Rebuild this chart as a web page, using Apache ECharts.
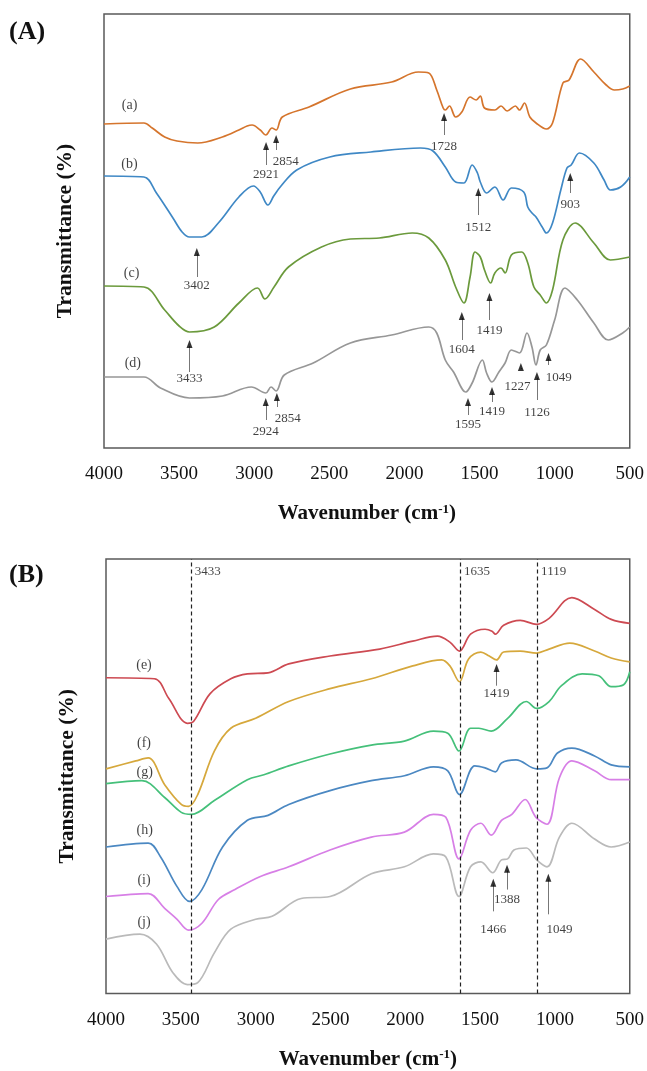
<!DOCTYPE html>
<html>
<head>
<meta charset="utf-8">
<title>FTIR spectra</title>
<script src="https://cdn.jsdelivr.net/npm/echarts@6/dist/echarts.min.js"></script>
<style>
  html, body { margin: 0; padding: 0; background: #fff; }
  #chart { width: 647px; height: 1071px; }
</style>
</head>
<body>
<div id="chart"></div>
<script>
// x ticks (wavenumber, cm-1)
const xTicks = [4000, 3500, 3000, 2500, 2000, 1500, 1000, 500]

// ---- panel (A): [wavenumber, transmittance (a.u., offset)] ----
const specA = [[4000,324],[3734,325],[3679,320],[3596,311],[3514,307],[3376,305],[3212,311],[3102,318],[3047,322],[3014,323],[2960,318],[2923,313],[2882,320],[2854,318],[2813,331],[2635,341],[2360,359],[2085,366],[1907,376],[1838,375],[1785,358],[1742,340],[1728,338],[1700,342],[1659,331],[1618,336],[1563,351],[1522,348],[1495,352],[1467,340],[1398,338],[1357,342],[1316,337],[1261,342],[1234,338],[1201,345],[1165,331],[1124,325],[1055,319],[1014,325],[945,365],[904,368],[827,389],[739,376],[657,363],[602,358],[547,359],[500,362]]
const specB = [[4000,272],[3734,271],[3651,255],[3541,230],[3480,216],[3431,211],[3349,211],[3239,225],[3102,251],[3005,262],[2960,256],[2909,243],[2870,252],[2827,261],[2717,278],[2497,291],[2223,296],[1893,300],[1810,297],[1728,281],[1659,266],[1604,265],[1549,283],[1514,275],[1495,266],[1453,255],[1398,261],[1343,248],[1288,260],[1206,256],[1179,241],[1151,235],[1124,231],[1083,221],[1055,215],[1014,225],[959,258],[918,280],[890,283],[835,295],[739,285],[671,268],[629,258],[561,261],[500,271]]
const specC = [[4000,162],[3734,161],[3596,138],[3500,122],[3431,116],[3266,121],[3102,145],[2978,160],[2929,149],[2868,161],[2772,181],[2552,201],[2360,209],[2167,210],[1948,215],[1838,210],[1728,188],[1659,161],[1604,145],[1563,171],[1530,196],[1495,191],[1467,178],[1426,165],[1398,175],[1357,180],[1330,175],[1288,193],[1220,196],[1179,185],[1138,161],[1096,153],[1055,145],[1014,158],[945,208],[863,225],[739,205],[629,188],[500,191]]
const specD = [[4000,71],[3734,71],[3624,60],[3431,50],[3212,52],[3019,61],[2923,55],[2888,61],[2854,57],[2800,73],[2607,85],[2360,105],[2085,113],[1838,121],[1785,115],[1728,88],[1673,76],[1591,56],[1549,65],[1481,88],[1453,75],[1417,66],[1371,76],[1330,85],[1288,98],[1234,95],[1184,115],[1151,101],[1124,83],[1096,98],[1055,103],[1000,128],[931,160],[849,148],[739,125],[643,108],[547,115],[500,121]]

// ---- panel (B) ----
const specE = [[4000,319],[3677,318],[3580,298],[3456,273],[3414,275],[3304,303],[3166,318],[3055,323],[2917,324],[2779,333],[2503,341],[2171,348],[1950,356],[1785,361],[1702,355],[1638,346],[1564,363],[1467,368],[1420,366],[1398,363],[1343,372],[1232,377],[1122,373],[1039,379],[887,400],[735,388],[624,378],[500,374]]
const specF = [[4000,227],[3801,235],[3718,238],[3608,211],[3497,191],[3448,189],[3387,201],[3276,245],[3166,268],[3000,278],[2779,295],[2503,308],[2227,318],[1950,331],[1757,337],[1702,331],[1638,315],[1577,338],[1495,345],[1439,341],[1390,337],[1343,345],[1232,346],[1122,344],[1039,348],[901,354],[735,346],[624,339],[500,335]]
const specG = [[4000,212],[3760,215],[3608,198],[3497,183],[3428,181],[3276,195],[3055,216],[2945,221],[2779,230],[2503,242],[2227,251],[2006,255],[1812,265],[1716,263],[1641,245],[1564,268],[1508,268],[1426,265],[1316,278],[1191,295],[1122,288],[1039,295],[956,311],[818,323],[707,321],[624,310],[541,312],[500,325]]
const specH = [[4000,148],[3718,152],[3635,138],[3525,108],[3442,93],[3359,105],[3221,148],[3055,175],[2917,180],[2779,191],[2503,205],[2227,215],[2006,220],[1812,229],[1716,225],[1638,201],[1536,230],[1467,228],[1398,224],[1357,233],[1260,236],[1122,227],[1053,228],[983,243],[887,248],[735,240],[624,231],[500,229]]
const specI = [[4000,98],[3718,101],[3608,86],[3525,75],[3448,64],[3359,71],[3249,95],[3138,105],[2972,118],[2779,128],[2503,145],[2227,158],[2006,163],[1812,181],[1729,178],[1641,136],[1564,165],[1495,172],[1426,160],[1357,175],[1288,181],[1199,196],[1127,178],[1053,171],[970,218],[887,235],[735,225],[624,216],[500,216]]
const specJ = [[4000,55],[3773,60],[3663,50],[3553,21],[3456,9],[3387,11],[3276,41],[3166,65],[3000,75],[2890,78],[2696,96],[2503,98],[2227,121],[2006,128],[1812,141],[1729,138],[1641,98],[1564,128],[1495,133],[1416,122],[1357,135],[1316,136],[1274,145],[1191,147],[1122,135],[1053,128],[970,158],[887,172],[735,156],[624,148],[500,153]]

// curve tags: [wavenumber, value, text]
const tagsA = [[3830,343,'(a)'],[3830,284,'(b)'],[3816,175,'(c)'],[3808,85,'(d)']]
const tagsB = [[3746,332,'(e)'],[3746,253,'(f)'],[3741,223,'(g)'],[3741,165,'(h)'],[3746,114,'(i)'],[3746,72,'(j)']]

// peak notes: [arrow wavenumber, tip, tail, label wavenumber, label value, text]
const peaksA = [
  [2921,306,283,2921,273,'2921'],[2854,313,298,2790,286,'2854'],[1736,335,313,1736,301,'1728'],
  [1508,260,233,1508,220,'1512'],[896,275,255,896,243,'903'],[3382,200,171,3382,162,'3402'],
  [1618,136,108,1618,98,'1604'],[1434,155,128,1434,117,'1419'],[3431,108,76,3431,69,'3433'],
  [2923,50,28,2923,16,'2924'],[2849,55,41,2777,29,'2854'],[1577,50,33,1577,23,'1595'],
  [1417,61,46,1417,36,'1419'],[1225,85,80,1247,61,'1227'],[1118,76,48,1118,35,'1126'],
  [1041,95,83,972,70,'1049']
]
const peaksB = [
  [1390,333,311,1390,303,'1419'],[1412,116,83,1412,65,'1466'],
  [1320,130,105,1320,95,'1388'],[1044,121,80,970,65,'1049']
]

// dashed reference lines in (B)
const refLines = [3433, 1635, 1119]

const serif = "'Liberation Serif', 'Times New Roman', serif"

const colorsA = ['#d5752d', '#3f88c5', '#6b9a3c', '#979797']
const colorsB = ['#cd4a52', '#d6a83c', '#45c07a', '#4b88c2', '#d77fe6', '#bababa']

function lineSeries(data, color, idx) {
  return {
    type: 'line',
    xAxisIndex: idx,
    yAxisIndex: idx,
    data: data,
    showSymbol: false,
    smooth: 0.35,
    lineStyle: { color: color, width: 1.7 },
    silent: true,
    z: 3
  }
}

function textSeries(data, idx, size, pos) {
  return {
    type: 'scatter',
    xAxisIndex: idx,
    yAxisIndex: idx,
    data: data,
    symbolSize: 0,
    silent: true,
    label: {
      show: true,
      position: pos || 'inside',
      distance: 2,
      formatter: p => p.value[2],
      fontFamily: serif,
      fontSize: size,
      color: '#111'
    },
    z: 5
  }
}

function arrowSeries(notes, idx) {
  return [
    {
      type: 'scatter',
      xAxisIndex: idx,
      yAxisIndex: idx,
      data: notes.map(n => [n[0], n[1]]),
      symbol: 'triangle',
      symbolSize: [6, 8],
      symbolOffset: [0, 4],
      itemStyle: { color: '#000' },
      silent: true,
      z: 6,
      markLine: {
        silent: true,
        symbol: ['none', 'none'],
        label: { show: false },
        lineStyle: { color: '#777', width: 1, type: 'solid' },
        data: notes.map(n => [{ coord: [n[0], n[2]] }, { coord: [n[0], n[1] - 6] }])
      }
    },
    textSeries(notes.map(n => [n[3], n[4], n[5]]), idx, 13)
  ]
}

function xAxisFor(idx) {
  return {
    gridIndex: idx,
    type: 'value',
    min: xTicks[xTicks.length - 1],
    max: xTicks[0],
    interval: 500,
    inverse: true,
    axisLine: { show: false },
    axisTick: { show: false },
    splitLine: { show: false },
    axisLabel: { fontFamily: serif, fontSize: 19, color: '#111', margin: 17, formatter: v => String(v) },
    name: 'Wavenumber (cm{sup|-1})',
    nameLocation: 'middle',
    nameGap: 55,
    nameTextStyle: {
      fontFamily: serif, fontSize: 21, fontWeight: 'bold', color: '#111',
      rich: { sup: { fontFamily: serif, fontSize: 13, fontWeight: 'bold', color: '#111', padding: [0, 0, 9, 0] } }
    }
  }
}

function yAxisFor(idx, top) {
  return {
    gridIndex: idx,
    type: 'value',
    min: 0,
    max: top,
    axisLine: { show: false },
    axisTick: { show: false },
    axisLabel: { show: false },
    splitLine: { show: false },
    name: 'Transmittance (%)',
    nameLocation: 'middle',
    nameGap: 28,
    nameTextStyle: { fontFamily: serif, fontSize: 21.5, fontWeight: 'bold', color: '#111' }
  }
}

const chart = echarts.init(document.getElementById('chart'))

const series = [
  lineSeries(specA, colorsA[0], 0),
  lineSeries(specB, colorsA[1], 0),
  lineSeries(specC, colorsA[2], 0),
  lineSeries(specD, colorsA[3], 0),
  lineSeries(specE, colorsB[0], 1),
  lineSeries(specF, colorsB[1], 1),
  lineSeries(specG, colorsB[2], 1),
  lineSeries(specH, colorsB[3], 1),
  lineSeries(specI, colorsB[4], 1),
  lineSeries(specJ, colorsB[5], 1),
  textSeries(tagsA, 0, 14),
  textSeries(tagsB, 1, 14),
  ...arrowSeries(peaksA, 0),
  ...arrowSeries(peaksB, 1),
  {
    // dashed guides + their labels
    type: 'scatter',
    xAxisIndex: 1,
    yAxisIndex: 1,
    data: refLines.map(w => [w, 426, String(w)]),
    symbolSize: 0,
    silent: true,
    label: {
      show: true, position: 'right', distance: 4,
      formatter: p => p.value[2],
      fontFamily: serif, fontSize: 13, color: '#111'
    },
    markLine: {
      silent: true,
      symbol: ['none', 'none'],
      label: { show: false },
      lineStyle: { color: '#222', width: 1.2, type: [4, 3] },
      data: refLines.map(w => ({ xAxis: w }))
    },
    z: 4
  }
]

const option = {
  animation: false,
  backgroundColor: '#fff',
  title: [
    { text: '(A)', left: 9, top: 19, padding: 0, textStyle: { fontFamily: serif, fontSize: 26, fontWeight: 'bold', color: '#111' } },
    { text: '(B)', left: 9, top: 562, padding: 0, textStyle: { fontFamily: serif, fontSize: 26, fontWeight: 'bold', color: '#111' } }
  ],
  grid: [
    { left: 104, top: 14, width: 527, height: 434, show: true, borderColor: '#5a5a5a', borderWidth: 1.5 },
    { left: 106, top: 559, width: 525, height: 439, show: true, borderColor: '#5a5a5a', borderWidth: 1.5 }
  ],
  xAxis: [xAxisFor(0), xAxisFor(1)],
  yAxis: [yAxisFor(0, 434), yAxisFor(1, 439)],
  series: series
}

chart.setOption(option)
</script>
</body>
</html>
